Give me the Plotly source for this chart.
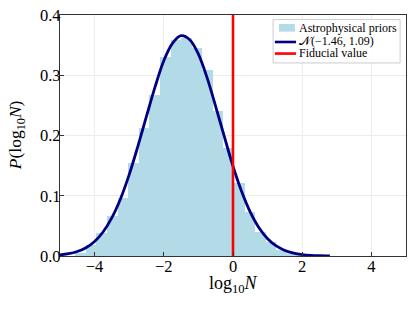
import plotly.graph_objects as go

# Histogram (density): left bin edges and heights
bin_left = [-4.56, -4.254, -3.948, -3.642, -3.336, -3.03, -2.724, -2.418, -2.112,
            -1.806, -1.5, -1.194, -0.888, -0.582, -0.276, 0.03, 0.336, 0.642,
            0.948, 1.254, 1.56, 1.866]
bin_height = [0.005, 0.018, 0.039, 0.067, 0.097, 0.154, 0.212, 0.267, 0.331,
              0.358, 0.362, 0.345, 0.308, 0.240, 0.179, 0.122, 0.0735, 0.040,
              0.024, 0.010, 0.004, 0.002]
bin_width = 0.306

# Fitted normal curve
curve_x = [-5.0, -4.75, -4.5, -4.25, -4.0, -3.75, -3.5, -3.25, -3.0, -2.75, -2.5,
           -2.25, -2.0, -1.75, -1.5, -1.25, -1.0, -0.75, -0.5, -0.25, 0.0, 0.25,
           0.5, 0.75, 1.0, 1.25, 1.5, 1.75, 2.0, 2.25, 2.5, 2.8]
curve_y = [0.0019, 0.0038, 0.0075, 0.0138, 0.0242, 0.0403, 0.0636, 0.095, 0.135,
           0.182, 0.232, 0.281, 0.324, 0.353, 0.3657, 0.359, 0.335, 0.296, 0.248,
           0.198, 0.149, 0.107, 0.0727, 0.0468, 0.0287, 0.0167, 0.0092, 0.0048,
           0.0024, 0.0011, 0.0005, 0.0002]

fiducial_x = 0.0

legend_labels = ["Astrophysical priors", "𝒩(−1.46, 1.09)", "Fiducial value"]

x_ticks = [-4, -2, 0, 2, 4]
y_ticks = [0.0, 0.1, 0.2, 0.3, 0.4]

serif = "Liberation Serif"
bar_color = "#add8e6"
curve_color = "#000080"
fid_color = "#ff0000"

bin_center = [b + bin_width / 2 for b in bin_left]

fig = go.Figure()
fig.add_trace(go.Bar(
    x=bin_center, y=bin_height, width=[bin_width] * len(bin_center),
    marker=dict(color=bar_color, line=dict(width=0)), opacity=0.92,
    name=legend_labels[0], showlegend=False))
fig.add_trace(go.Scatter(
    x=curve_x, y=curve_y, mode="lines",
    line=dict(color=curve_color, width=2.8, shape="spline"),
    name=legend_labels[1], showlegend=False))
fig.add_trace(go.Scatter(
    x=[fiducial_x, fiducial_x], y=[0, 0.4], mode="lines",
    line=dict(color=fid_color, width=2.6), name=legend_labels[2], showlegend=False))

axis_common = dict(
    showline=True, linecolor="#333333", linewidth=1.2, mirror=True,
    ticks="inside", ticklen=4, tickcolor="#333333", tickwidth=1,
    showgrid=True, gridcolor="#ececec", gridwidth=1, zeroline=False,
    tickfont=dict(family=serif, size=16.5, color="black"),
    automargin=False, ticklabeloverflow="allow",
)

# Manual legend (box, symbols, labels) in plot-area paper coordinates
shapes = [
    dict(type="rect", xref="paper", yref="paper", x0=0.616, x1=0.983, y0=0.801, y1=0.981,
         line=dict(color="#cccccc", width=1), fillcolor="rgba(255,255,255,0.85)", layer="above"),
    dict(type="rect", xref="paper", yref="paper", x0=0.633, x1=0.679, y0=0.931, y1=0.963,
         line=dict(width=0), fillcolor=bar_color, opacity=0.92, layer="above"),
    dict(type="line", xref="paper", yref="paper", x0=0.621, x1=0.682, y0=0.888, y1=0.888,
         line=dict(color=curve_color, width=2.6), layer="above"),
    dict(type="line", xref="paper", yref="paper", x0=0.621, x1=0.682, y0=0.840, y1=0.840,
         line=dict(color=fid_color, width=2.6), layer="above"),
]
annotations = []
for lab, yy in zip(legend_labels, [0.946, 0.891, 0.841]):
    annotations.append(dict(text=lab, xref="paper", yref="paper", x=0.685, y=yy,
                            xanchor="left", yanchor="middle", showarrow=False,
                            font=dict(family=serif, size=12, color="black")))
annotations.append(dict(text="log<sub>10</sub><i>N</i>", xref="paper", yref="paper",
                        x=0.5, y=-0.12, xanchor="center", yanchor="middle", showarrow=False,
                        font=dict(family=serif, size=18, color="black")))
annotations.append(dict(text="<i>P</i>(log<sub>10</sub><i>N</i>)", xref="paper", yref="paper",
                        x=-0.125, y=0.5, xanchor="center", yanchor="middle", showarrow=False,
                        textangle=-90, borderpad=0,
                        font=dict(family=serif, size=17.5, color="black")))

fig.update_layout(
    width=415, height=310,
    margin=dict(l=60, r=9, t=15, b=54, autoexpand=False),
    paper_bgcolor="white", plot_bgcolor="white",
    bargap=0,
    font=dict(family=serif, color="black"),
    showlegend=False,
    hovermode=False,
    shapes=shapes,
    annotations=annotations,
    xaxis=dict(range=[-5, 5], tickvals=x_ticks, ticklabelstandoff=-5, **axis_common),
    yaxis=dict(range=[0, 0.4], tickvals=y_ticks, tickformat=".1f", ticklabelstandoff=-5,
               **axis_common),
)

# Remove the default 8px page margin so the 415x310 figure fills the window exactly
fig.write_html("out.html", config={"displayModeBar": False, "staticPlot": True},
               post_script="document.body.style.margin='0';document.body.style.overflow='hidden';")
